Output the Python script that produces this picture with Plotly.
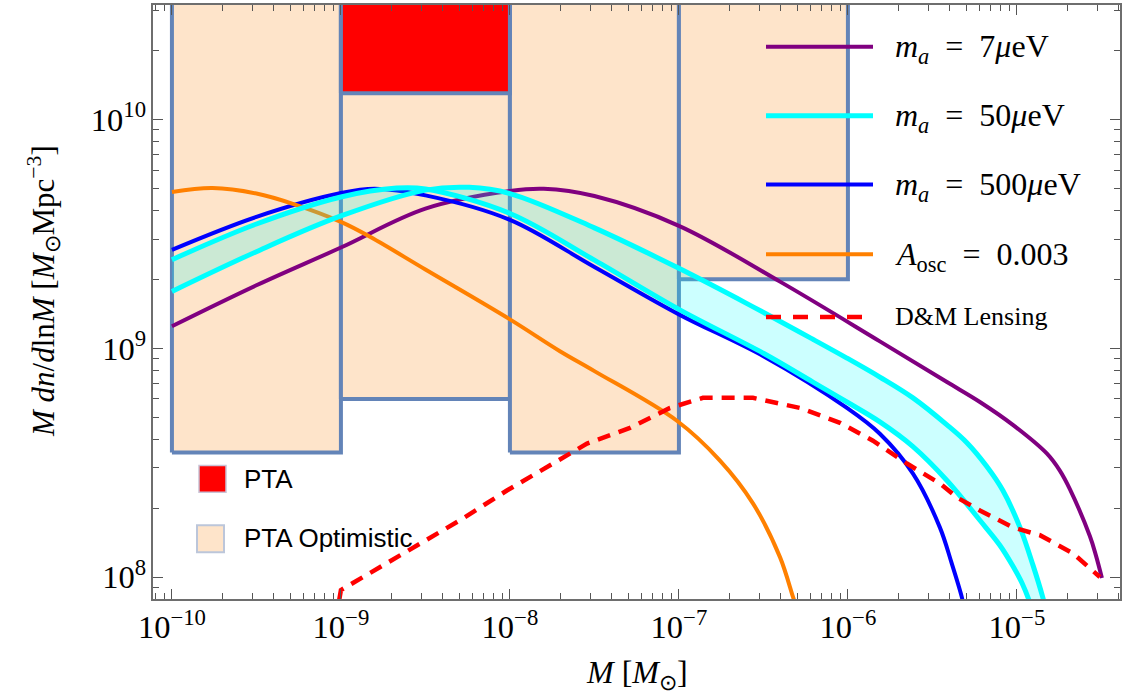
import numpy as np
import plotly.graph_objects as go

# ---------------- data (log10 M [Msun], log10 M dn/dlnM) ----------------
m7_logM = [-10.0, -9.5, -9.0, -8.5, -8.0, -7.8, -7.5, -7.0, -6.402, -5.811, -5.414, -5.219, -5.024, -4.822,
           -4.746, -4.686, -4.568, -4.533, -4.497]
m7_logN = [9.096, 9.275, 9.44, 9.61, 9.687, 9.697, 9.665, 9.535, 9.291, 9.030, 8.852, 8.765, 8.665, 8.539,
           8.465, 8.383, 8.178, 8.096, 7.996]

m500_logM = [-10.0, -9.5, -9.0, -8.8, -8.5, -8.0, -7.5, -7.0, -6.5, -6.006, -5.811, -5.615, -5.456, -5.388,
             -5.325, -5.314]
m500_logN = [9.430, 9.574, 9.678, 9.697, 9.668, 9.561, 9.355, 9.148, 8.965, 8.739, 8.626, 8.452, 8.217, 8.065,
             7.909, 7.865]

m50a_logM = [-10.0, -9.5, -9.0, -8.67, -8.5, -8.0, -7.5, -7.0, -6.5, -6.207, -6.006, -5.811, -5.615, -5.414,
             -5.219, -5.101, -5.024, -4.970, -4.929, -4.911]
m50a_logN = [9.387, 9.543, 9.661, 9.70, 9.696, 9.589, 9.385, 9.170, 8.978, 8.852, 8.765, 8.678, 8.570, 8.422,
             8.248, 8.139, 8.048, 7.974, 7.900, 7.857]

m50b_logM = [-10.0, -9.5, -9.0, -8.5, -8.24, -8.0, -7.5, -7.0, -6.600, -6.207, -6.006, -5.811, -5.615, -5.414,
             -5.296, -5.178, -5.083, -4.982, -4.905, -4.846, -4.828]
m50b_logN = [9.248, 9.422, 9.578, 9.691, 9.703, 9.676, 9.526, 9.349, 9.196, 9.039, 8.957, 8.874, 8.783, 8.665,
             8.587, 8.483, 8.378, 8.217, 8.052, 7.909, 7.857]

osc_logM = [-10.0, -9.76, -9.5, -9.28, -9.0, -8.828, -8.5, -8.0, -7.704, -7.5, -7.012, -6.757, -6.562, -6.402,
            -6.325, -6.31]
osc_logN = [9.683, 9.70, 9.676, 9.630, 9.552, 9.487, 9.344, 9.126, 8.987, 8.90, 8.683, 8.509, 8.322, 8.087,
            7.913, 7.88]

dm_logM = [-9.01, -9.0, -8.929, -8.533, -8.296, -8.018, -7.746, -7.544, -7.290, -7.053, -6.858, -6.562, -6.284,
           -6.047, -5.852, -5.651, -5.456, -5.355, -5.219, -5.024, -4.864, -4.669, -4.509]
dm_logN = [7.90, 7.943, 7.974, 8.148, 8.248, 8.378, 8.496, 8.583, 8.652, 8.739, 8.783, 8.783, 8.739,
           8.674, 8.596, 8.496, 8.409, 8.348, 8.291, 8.217, 8.183, 8.104, 8.0]

# PTA boxes
opt_left = [1e-10, 1e-9, 1e-8, 1e-7]
opt_right = [1e-9, 1e-8, 1e-7, 1e-6]
opt_bottom = [3.5e8, 6.0e8, 3.5e8, 2.0e9]
box_top = 1e12
pta_left, pta_right, pta_bottom = 1e-9, 1e-8, 1.3e10

EQ = "\u2002=\u2002"
legend_labels = [
    "<i>m<sub>a</sub></i>" + EQ + "7<i>μ</i>eV",
    "<i>m<sub>a</sub></i>" + EQ + "50<i>μ</i>eV",
    "<i>m<sub>a</sub></i>" + EQ + "500<i>μ</i>eV",
    "<i>A</i><sub>osc</sub>" + EQ + "0.003",
    "D&amp;M Lensing",
]

# ---------------- styling ----------------
W, H = 1125, 696
ML, MR, MT, MB = 153, 5, 3, 97
PEACH = "#fee4ca"
EDGE = "#6384b8"
PURPLE = "#800080"
CYAN = "#00ffff"
BLUE = "#0000ff"
ORANGE = "#ff8000"
RED = "#ff0000"
SERIF = "Liberation Serif"
SANS = "Liberation Sans"


def px(xp):
    return (xp - ML) / (W - ML - MR)


def py(yp):
    return (H - MB - yp) / (H - MT - MB)


def pw(v):
    return [10 ** a for a in v]


fig = go.Figure()

# optimistic boxes
for l, r, b in zip(opt_left, opt_right, opt_bottom):
    fig.add_trace(go.Scatter(x=[l, r, r, l, l], y=[b, b, box_top, box_top, b], mode="lines",
                             fill="toself", fillcolor=PEACH, line=dict(color=EDGE, width=4),
                             hoverinfo="skip", showlegend=False))
# PTA box
fig.add_trace(go.Scatter(x=[pta_left, pta_right, pta_right, pta_left, pta_left],
                         y=[pta_bottom, pta_bottom, box_top, box_top, pta_bottom], mode="lines",
                         fill="toself", fillcolor=RED, line=dict(color=EDGE, width=4),
                         hoverinfo="skip", showlegend=False))


def curve(xs, ys, color, width=4, dash=None, shape="spline"):
    fig.add_trace(go.Scatter(x=pw(xs), y=pw(ys), mode="lines",
                             line=dict(color=color, width=width, dash=dash, shape=shape, smoothing=1.0),
                             hoverinfo="skip", showlegend=False))


curve(m7_logM, m7_logN, PURPLE)
curve(m500_logM, m500_logN, BLUE)
curve(osc_logM, osc_logN, ORANGE)

# band between the two m_a = 50 curves
fig.add_trace(go.Scatter(x=pw(m50a_logM), y=pw(m50a_logN), mode="lines",
                         line=dict(width=0, shape="spline", smoothing=1.0), hoverinfo="skip", showlegend=False))
fig.add_trace(go.Scatter(x=pw(m50b_logM), y=pw(m50b_logN), mode="lines", fill="tonexty",
                         fillcolor="rgba(0,255,255,0.2)",
                         line=dict(width=0, shape="spline", smoothing=1.0), hoverinfo="skip", showlegend=False))
curve(m50a_logM, m50a_logN, CYAN, width=5)
curve(m50b_logM, m50b_logN, CYAN, width=5)

curve(dm_logM, dm_logN, RED, width=4.5, dash="13px,9px", shape="linear")

shapes = []
annotations = []

# top-right legend
leg_rows = [45, 114, 183, 253, 316]
leg_colors = [PURPLE, CYAN, BLUE, ORANGE, RED]
leg_widths = [4, 5, 4, 4, 4.5]
for i, (yr, c, lw, lab) in enumerate(zip(leg_rows, leg_colors, leg_widths, legend_labels)):
    shapes.append(dict(type="line", xref="paper", yref="paper", x0=px(766), x1=px(873),
                       y0=py(yr), y1=py(yr), line=dict(color=c, width=lw,
                                                       dash="15px,12px" if i == 4 else "solid")))
    annotations.append(dict(xref="paper", yref="paper", x=px(893), y=py(yr + (2 if i < 4 else 0)),
                            xanchor="left", yanchor="middle", showarrow=False, text=lab,
                            font=dict(family=SERIF, size=32 if i < 4 else 26, color="black")))

# lower-left legend
shapes.append(dict(type="rect", xref="paper", yref="paper", x0=px(199), x1=px(226), y0=py(492), y1=py(465),
                   fillcolor=RED, line=dict(color="#c9c3d6", width=1.5)))
shapes.append(dict(type="rect", xref="paper", yref="paper", x0=px(197), x1=px(224), y0=py(552), y1=py(525),
                   fillcolor=PEACH, line=dict(color="#bcc6da", width=2)))
annotations.append(dict(xref="paper", yref="paper", x=px(242), y=py(479), xanchor="left", yanchor="middle",
                        showarrow=False, text="PTA", font=dict(family=SANS, size=26, color="black")))
annotations.append(dict(xref="paper", yref="paper", x=px(242), y=py(538), xanchor="left", yanchor="middle",
                        showarrow=False, text="PTA Optimistic", font=dict(family=SANS, size=26, color="black")))

# axis titles
annotations.append(dict(xref="paper", yref="paper", x=px(637), y=py(675), xanchor="center", yanchor="middle",
                        showarrow=False, text="<i>M</i> [<i>M</i><sub>⊙</sub>]",
                        font=dict(family=SERIF, size=32, color="black")))
annotations.append(dict(xref="paper", yref="paper", x=px(44), y=py(290), xanchor="center", yanchor="middle",
                        showarrow=False, textangle=-90,
                        text="<i>M</i> <i>dn</i>/<i>d</i>ln<i>M</i> [<i>M</i><sub>⊙</sub>Mpc<sup>−3</sup>]",
                        font=dict(family=SERIF, size=31, color="black")))

axis_common = dict(type="log", showline=True, linecolor="#6e6e6e", linewidth=1.5, mirror="allticks",
                   ticks="inside", ticklen=10, tickwidth=1.2, tickcolor="#555555", dtick=1,
                   exponentformat="power", showgrid=False, zeroline=False,
                   tickfont=dict(family=SERIF, size=26, color="black"),
                   minor=dict(ticks="inside", ticklen=6, dtick="D1", tickcolor="#555555", tickwidth=1.0,
                              showgrid=False))

fig.update_layout(
    width=W, height=H,
    margin=dict(l=ML, r=MR, t=MT, b=MB),
    paper_bgcolor="white", plot_bgcolor="white",
    xaxis=dict(range=[-10.112, -4.39], **axis_common),
    yaxis=dict(range=[7.904, 10.5], **axis_common),
    shapes=shapes, annotations=annotations, showlegend=False,
)

fig.write_html("out.html")
